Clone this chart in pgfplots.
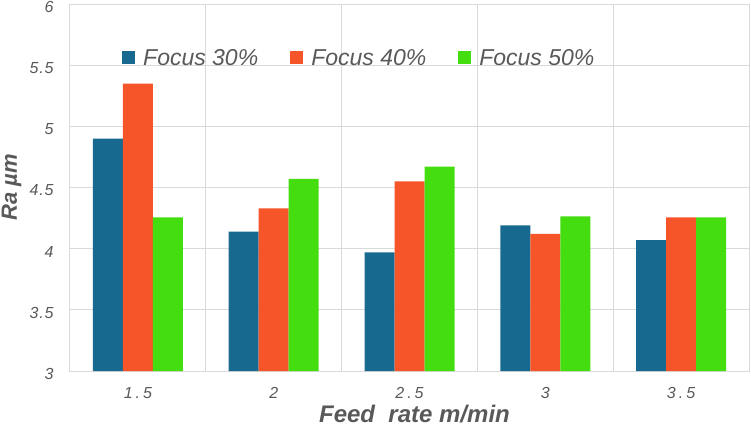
\documentclass[border=0pt]{standalone}
\usepackage{fontspec}
\setmainfont{Liberation Sans}
\usepackage{pgfplots}
\pgfplotsset{compat=1.18}
\definecolor{cA}{RGB}{23,105,143}
\definecolor{cB}{RGB}{245,85,40}
\definecolor{cC}{RGB}{67,221,16}
\definecolor{gridc}{RGB}{217,217,217}
\definecolor{txt}{RGB}{89,89,89}
\newcommand{\dt}{\kern3pt.\kern3pt}
\newcommand{\dy}{\kern0.8pt.\kern0.8pt}
\begin{document}
\begin{tikzpicture}
\begin{axis}[
  scale only axis, width=679pt, height=367pt,
  ybar=0pt, bar width=30pt,
  xmin=-0.5, xmax=4.5, ymin=3, ymax=6,
  xtick={0,1,2,3,4},
  xticklabels={1\dt5, 2, 2\dt5, 3, 3\dt5},
  minor xtick={-0.5,0.5,1.5,2.5,3.5,4.5},
  ytick={3,3.5,4,4.5,5,5.5,6},
  yticklabels={3,3\dy5,4,4\dy5,5,5\dy5,6},
  xminorgrids=true, ymajorgrids=true, xmajorgrids=false,
  grid style={gridc, line width=1pt},
  minor grid style={gridc, line width=1pt},
  axis line style={gridc, line width=1pt},
  major tick length=0pt, minor tick length=0pt,
  xticklabel style={font=\fontsize{16}{16}\selectfont\itshape, text=txt, anchor=base, yshift=-27pt},
  yticklabel style={font=\fontsize{16}{16}\selectfont\itshape, text=txt, xshift=-13pt, yshift=-3pt},
  xlabel={Feed~~rate m/min},
  ylabel={Ra µm},
  xlabel style={at={(axis description cs:0.5,0)}, anchor=base, yshift=-51pt, xshift=5pt, font=\fontsize{24}{24}\selectfont\bfseries\itshape, text=txt},
  ylabel style={at={(axis description cs:0,0.5)}, anchor=base, yshift=53pt, font=\fontsize{22}{22}\selectfont\bfseries\itshape, text=txt},
  legend style={at={(axis description cs:0.0766,0.853)}, anchor=west, draw=none, fill=none, inner sep=0pt,
    font=\fontsize{23}{23}\selectfont\itshape, text=txt,
    /tikz/every odd column/.append style={column sep=6pt},
    /tikz/every even column/.append style={column sep=30pt}},
  legend columns=-1,
  legend image code/.code={\fill[#1,draw=none] (0pt,-6.5pt) rectangle (13pt,6.5pt);},
]
\addplot[fill=cA, draw=none] coordinates {(0,4.90) (1,4.14) (2,3.97) (3,4.19) (4,4.07)};
\addplot[fill=cB, draw=none] coordinates {(0,5.35) (1,4.33) (2,4.55) (3,4.12) (4,4.255)};
\addplot[fill=cC, draw=none] coordinates {(0,4.255) (1,4.57) (2,4.67) (3,4.265) (4,4.255)};
\legend{Focus 30\%, Focus 40\%, Focus 50\%}
\end{axis}
\pgfresetboundingbox
\path ([shift={(-70pt,-58pt)}]current axis.south west) rectangle ([shift={(2pt,4pt)}]current axis.north east);
\end{tikzpicture}
\end{document}
